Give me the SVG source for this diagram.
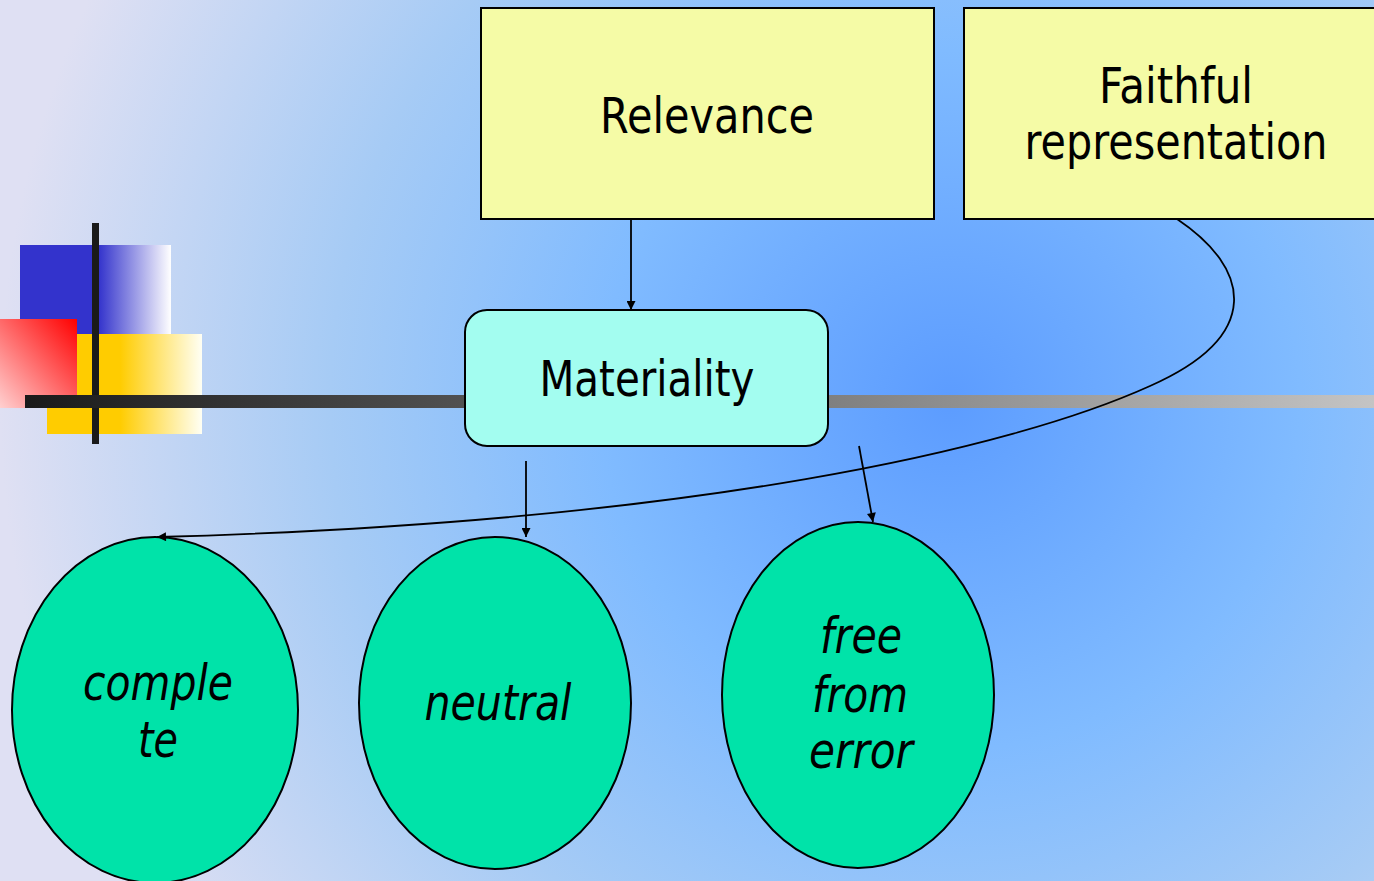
<svg xmlns="http://www.w3.org/2000/svg" width="1374" height="881" viewBox="0 0 1374 881">
  <defs>
    <radialGradient id="bg" gradientUnits="userSpaceOnUse" cx="950" cy="400" r="1000">
      <stop offset="0" stop-color="#5c9cff"/>
      <stop offset="0.35" stop-color="#80bbff"/>
      <stop offset="0.62" stop-color="#a6cbf5"/>
      <stop offset="0.95" stop-color="#dfe0f3"/>
    </radialGradient>
    <linearGradient id="hbar" gradientUnits="userSpaceOnUse" x1="25" y1="0" x2="1374" y2="0">
      <stop offset="0" stop-color="#1a1a1a"/>
      <stop offset="1" stop-color="#c4c4c4"/>
    </linearGradient>
    <linearGradient id="blueG" x1="0" y1="0" x2="1" y2="0">
      <stop offset="0.52" stop-color="#3333cc"/>
      <stop offset="1" stop-color="#ffffff"/>
    </linearGradient>
    <linearGradient id="yellowG" x1="0" y1="0" x2="1" y2="0">
      <stop offset="0.47" stop-color="#ffcc00"/>
      <stop offset="1" stop-color="#fffff4"/>
    </linearGradient>
    <linearGradient id="redG" x1="1" y1="0" x2="0" y2="1">
      <stop offset="0" stop-color="#ff0000"/>
      <stop offset="1" stop-color="#ffd0d0"/>
    </linearGradient>
    <marker id="arr" viewBox="0 0 10 10" refX="10" refY="5" markerWidth="11" markerHeight="9" markerUnits="userSpaceOnUse" orient="auto">
      <path d="M0,0 L10,5 L0,10 z" fill="#000"/>
    </marker>
    <style>
      .box { fill: #f5fba6; stroke: #000; stroke-width: 2; }
      .mat { fill: #a3fdf0; stroke: #000; stroke-width: 2; }
      .ell { fill: #00e3a9; stroke: #000; stroke-width: 2; }
      .lbl { font-family: "DejaVu Sans", Verdana, sans-serif; font-size: 50px; fill: #000; text-anchor: middle; }
      .it { font-style: italic; }
      .conn { fill: none; stroke: #000; stroke-width: 1.8; marker-end: url(#arr); }
    </style>
  </defs>

  <rect x="0" y="0" width="1374" height="881" fill="url(#bg)"/>

  <g id="decoration">
    <rect x="20" y="245" width="151" height="89" fill="url(#blueG)"/>
    <rect x="47" y="334" width="155" height="100" fill="url(#yellowG)"/>
    <rect x="0" y="319" width="77" height="89" fill="url(#redG)"/>
    <rect x="92" y="223" width="7" height="221" fill="#1a1a1a"/>
    <rect x="25" y="395" width="1349" height="13" fill="url(#hbar)"/>
  </g>

  <g id="relevance">
    <rect class="box" x="481" y="8" width="453" height="211"/>
    <text class="lbl" x="707" y="133" textLength="214" lengthAdjust="spacingAndGlyphs">Relevance</text>
  </g>

  <g id="faithful">
    <rect class="box" x="964" y="8" width="420" height="211"/>
    <text class="lbl" x="1176" y="103" textLength="154" lengthAdjust="spacingAndGlyphs">Faithful</text>
    <text class="lbl" x="1176" y="159" textLength="303" lengthAdjust="spacingAndGlyphs">representation</text>
  </g>

  <g id="materiality">
    <rect class="mat" x="465" y="310" width="363" height="136" rx="22" ry="22"/>
    <text class="lbl" x="647" y="396" textLength="215" lengthAdjust="spacingAndGlyphs">Materiality</text>
  </g>

  <g id="complete">
    <ellipse class="ell" cx="155" cy="710" rx="143" ry="173"/>
    <text class="lbl it" x="158" y="700" textLength="150" lengthAdjust="spacingAndGlyphs">comple</text>
    <text class="lbl it" x="158" y="757" textLength="40" lengthAdjust="spacingAndGlyphs">te</text>
  </g>

  <g id="neutral">
    <ellipse class="ell" cx="495" cy="703" rx="136" ry="166"/>
    <text class="lbl it" x="498" y="720" textLength="147" lengthAdjust="spacingAndGlyphs">neutral</text>
  </g>

  <g id="free-from-error">
    <ellipse class="ell" cx="858" cy="695" rx="136" ry="173"/>
    <text class="lbl it" x="861" y="653" textLength="82" lengthAdjust="spacingAndGlyphs">free</text>
    <text class="lbl it" x="860" y="712" textLength="96" lengthAdjust="spacingAndGlyphs">from</text>
    <text class="lbl it" x="861" y="768" textLength="104" lengthAdjust="spacingAndGlyphs">error</text>
  </g>

  <g id="connectors">
    <line class="conn" x1="631" y1="219" x2="631" y2="310"/>
    <line class="conn" x1="526" y1="461" x2="526" y2="537"/>
    <line class="conn" x1="859" y1="446" x2="873" y2="522"/>
    <path class="conn" d="M1177,219 C1250,268 1265,335 1150,386 C1013,448 700,522 157,537"/>
  </g>
</svg>
